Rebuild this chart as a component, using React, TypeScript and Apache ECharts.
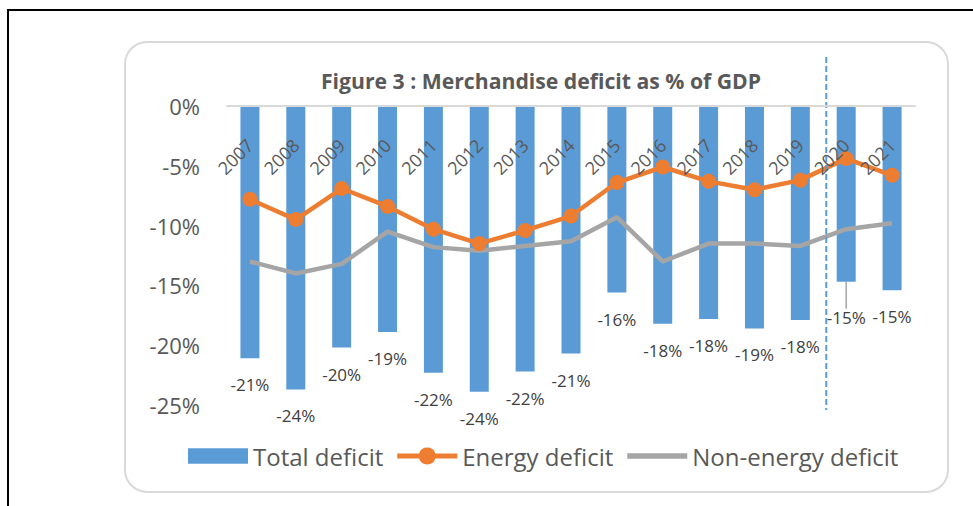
import { useEffect, useRef } from "react";
import * as echarts from "echarts";

const years = ["2007", "2008", "2009", "2010", "2011", "2012", "2013", "2014", "2015", "2016", "2017", "2018", "2019", "2020", "2021"];
const totalDeficit = [-21.1, -23.7, -20.2, -18.9, -22.3, -23.9, -22.2, -20.7, -15.6, -18.2, -17.8, -18.6, -17.9, -14.7, -15.4];
const energyDeficit = [-7.8, -9.5, -6.9, -8.4, -10.3, -11.5, -10.4, -9.2, -6.4, -5.1, -6.3, -7.0, -6.2, -4.4, -5.8];
const nonEnergyDeficit = [-13.0, -14.0, -13.2, -10.5, -11.8, -12.1, -11.7, -11.3, -9.3, -13.0, -11.5, -11.5, -11.7, -10.3, -9.8];
const yTickValues = [-25, -20, -15, -10, -5, 0];
const seriesNames = ["Total deficit", "Energy deficit", "Non-energy deficit"];
const titleText = "Figure 3 : Merchandise deficit as % of GDP";
const movedLabelIndex = 13;

const barIcon = "path://M0,0 L58,0 L58,15 L0,15 Z";
const markerLineIcon =
  "path://M0,6 L21.88,6 A8.5,8.5 0 0 1 38.12,6 L60,6 L60,11 L38.12,11 A8.5,8.5 0 0 1 21.88,11 L0,11 Z";
const plainLineIcon = "path://M0,0 L64,0 L64,6 L0,6 Z";

export default function App() {
  const ref = useRef<HTMLDivElement>(null);
  useEffect(() => {
    if (!ref.current) return;
    const chart = echarts.init(ref.current, null, { renderer: "svg" });
    const baseGraphic: any[] = [
      {
        id: "outer",
        type: "rect",
        z: -20,
        silent: true,
        shape: { x: 8, y: 10, width: 1100, height: 700 },
        style: { fill: "#ffffff", stroke: "#000000", lineWidth: 2 },
      },
      {
        id: "box",
        type: "rect",
        z: -10,
        silent: true,
        shape: { x: 125, y: 42, width: 823, height: 450, r: 22 },
        style: { fill: "#ffffff", stroke: "#d9d9d9", lineWidth: 2 },
      },
    ];
    chart.setOption({
      animation: false,
      title: {
        text: titleText,
        left: 536,
        top: 65,
        textAlign: "center",
        textStyle: { fontFamily: "Open Sans", fontWeight: "bold", fontSize: 21.2, color: "#595959" },
      },
      grid: { left: 227, right: 58, top: 106, bottom: 101, containLabel: false },
      legend: {
        left: 183,
        top: 439,
        itemWidth: 60,
        itemHeight: 17,
        itemGap: 14,
        data: [
          { name: seriesNames[0], icon: barIcon },
          { name: seriesNames[1], icon: markerLineIcon },
          { name: seriesNames[2], icon: plainLineIcon },
        ],
        textStyle: { fontFamily: "Open Sans", fontSize: 24, color: "#595959" },
      },
      xAxis: {
        type: "category",
        position: "top",
        data: years,
        z: 10,
        axisLine: { show: true, onZero: false, lineStyle: { color: "#d9d9d9", width: 2 } },
        axisTick: { show: false },
        axisLabel: {
          inside: true,
          rotate: -45,
          margin: 36,
          fontFamily: "Open Sans",
          fontSize: 18,
          color: "#595959",
        },
        splitLine: { show: false },
      },
      yAxis: {
        type: "value",
        min: yTickValues[0],
        max: yTickValues[yTickValues.length - 1],
        interval: 5,
        axisLine: { show: false },
        axisTick: { show: false },
        splitLine: { show: false },
        axisLabel: {
          margin: 27,
          fontFamily: "Open Sans",
          fontSize: 22,
          color: "#595959",
          formatter: (v: number) => `${v}%`,
        },
      },
      series: [
        {
          name: seriesNames[0],
          type: "bar",
          barWidth: 19,
          itemStyle: { color: "#5B9BD5" },
          data: totalDeficit.map((v, i) =>
            i === movedLabelIndex
              ? { value: v, labelLine: { show: true, lineStyle: { color: "#A6A6A6", width: 1.5 } } }
              : v
          ),
          label: {
            show: true,
            position: "bottom",
            distance: 18,
            fontFamily: "Open Sans",
            fontSize: 17,
            color: "#404040",
            formatter: (p: any) => `${Math.round(p.value)}%`,
          },
          labelLayout: (p: any) => (p.dataIndex === movedLabelIndex ? { dy: 9 } : {}),
          z: 2,
        },
        {
          name: seriesNames[1],
          type: "line",
          data: energyDeficit,
          symbol: "circle",
          symbolSize: 15,
          itemStyle: { color: "#ED7D31" },
          lineStyle: { color: "#ED7D31", width: 4.5 },
          z: 4,
        },
        {
          name: seriesNames[2],
          type: "line",
          data: nonEnergyDeficit,
          symbol: "none",
          itemStyle: { color: "#A5A5A5" },
          lineStyle: { color: "#A5A5A5", width: 4.5 },
          z: 3,
        },
      ],
      graphic: baseGraphic,
    });
    const xa = chart.convertToPixel({ xAxisIndex: 0 }, years[12]) as number;
    const xb = chart.convertToPixel({ xAxisIndex: 0 }, years[13]) as number;
    const xm = (xa + xb) / 2 + 3;
    chart.setOption({
      graphic: [
        ...baseGraphic,
        {
          id: "divider",
          type: "line",
          z: 10,
          silent: true,
          shape: { x1: xm, y1: 57, x2: xm, y2: 410 },
          style: { stroke: "#5B9BD5", lineWidth: 2, lineDash: [6, 3] },
        },
      ],
    });
    return () => chart.dispose();
  }, []);
  return (
    <div
      ref={ref}
      style={{ position: "fixed", left: 0, top: 0, width: 973, height: 506, background: "#ffffff" }}
    />
  );
}
